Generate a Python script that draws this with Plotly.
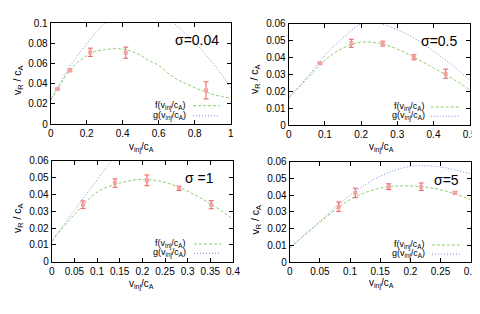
import plotly.graph_objects as go

# ---------------- data ----------------
# panel 1 : sigma = 0.04
p1_x = [0.037, 0.107, 0.220, 0.417, 0.863]
p1_y = [0.0347, 0.0532, 0.0710, 0.0706, 0.0333]
p1_e = [0.0008, 0.0015, 0.0041, 0.0055, 0.0085]
c1_x = [0.0, 0.05, 0.1, 0.15, 0.2, 0.25, 0.3, 0.35, 0.4, 0.45, 0.5, 0.55, 0.6, 0.65, 0.7, 0.75, 0.8, 0.85, 0.9, 0.95, 1.0]
f1_y = [0.024, 0.038, 0.052, 0.061, 0.0677, 0.072, 0.0735, 0.0745, 0.0742, 0.072, 0.068, 0.0625, 0.058, 0.0505, 0.0445, 0.040, 0.036, 0.0325, 0.0293, 0.0272, 0.0257]
g1_y = [0.024, 0.040, 0.0554, 0.068, 0.0795, 0.0905, 0.100, 0.106, 0.110, 0.112, 0.113, 0.112, 0.109, 0.1045, 0.0975, 0.089, 0.0805, 0.071, 0.0605, 0.049, 0.0356]

# panel 2 : sigma = 0.5
p2_x = [0.0865, 0.173, 0.2597, 0.346, 0.4337]
p2_y = [0.0366, 0.0484, 0.0482, 0.0401, 0.0304]
p2_e = [0.0005, 0.0024, 0.0014, 0.0015, 0.0027]
c2_x = [0.0, 0.05, 0.1, 0.15, 0.2, 0.25, 0.3, 0.35, 0.4, 0.45, 0.5]
f2_y = [0.016, 0.0272, 0.0385, 0.0456, 0.049, 0.0484, 0.045, 0.0397, 0.0338, 0.0278, 0.0209]
g2_y = [0.016, 0.0282, 0.0413, 0.0515, 0.0598, 0.0601, 0.0565, 0.0511, 0.0437, 0.0357, 0.0265]

# panel 3 : sigma = 1
p3_x = [0.069, 0.1397, 0.210, 0.281, 0.352]
p3_y = [0.0339, 0.0468, 0.0484, 0.0437, 0.0339]
p3_e = [0.0023, 0.0025, 0.0032, 0.0013, 0.0024]
c3_x = [0.0, 0.05, 0.1, 0.15, 0.2, 0.25, 0.3, 0.35, 0.4]
f3_y = [0.0123, 0.028, 0.0413, 0.0468, 0.049, 0.0472, 0.0419, 0.0345, 0.0254]
g3_x = [0.0, 0.05, 0.1, 0.15, 0.2]
g3_y = [0.0123, 0.0305, 0.0487, 0.066, 0.080]

# panel 4 : sigma = 5
p4_x = [0.0812, 0.1088, 0.164, 0.218, 0.274]
p4_y = [0.0331, 0.0413, 0.0450, 0.0450, 0.0414]
p4_e = [0.0028, 0.0028, 0.0017, 0.0022, 0.0008]
c4_x = [0.0, 0.05, 0.1, 0.15, 0.2, 0.25, 0.3]
f4_y = [0.0085, 0.0238, 0.0373, 0.0442, 0.0454, 0.0432, 0.0373]
g4_y = [0.0085, 0.0244, 0.0399, 0.0512, 0.0571, 0.0567, 0.0526]

sigma_labels = ["σ=0.04", "σ=0.5", "σ =1", "σ=5"]
x_ranges = [[0, 1], [0, 0.5], [0, 0.4], [0, 0.3]]
x_dticks = [0.2, 0.1, 0.05, 0.05]
y_ranges = [[0, 0.1], [0, 0.06], [0, 0.06], [0, 0.06]]
y_dticks = [0.02, 0.01, 0.01, 0.01]

# ---------------- style ----------------
W, H = 480, 314
FONT = "Liberation Sans, Arial, sans-serif"
F_COL = "#8ccf6a"
G_COL = "#6f8fd6"
E_COL = "#ee5a5a"
M_COL = "#f4a3a3"
F_DASH = "3px,2px"
G_DASH = "1px,2px"

panels = [
    dict(px=p1_x, py=p1_y, pe=p1_e, fx=c1_x, fy=f1_y, gx=c1_x, gy=g1_y),
    dict(px=p2_x, py=p2_y, pe=p2_e, fx=c2_x, fy=f2_y, gx=c2_x, gy=g2_y),
    dict(px=p3_x, py=p3_y, pe=p3_e, fx=c3_x, fy=f3_y, gx=g3_x, gy=g3_y),
    dict(px=p4_x, py=p4_y, pe=p4_e, fx=c4_x, fy=f4_y, gx=c4_x, gy=g4_y),
]

# plot areas in pixels (left, right, top, bottom)
boxes = [
    (42.7, 222.7, 15.0, 116.0),
    (280.7, 461.7, 15.7, 117.0),
    (43.7, 225.0, 152.9, 253.7),
    (281.7, 462.7, 153.5, 254.3),
]

def px2x(v):
    return v / W

def px2y(v):
    return 1 - v / H

fig = go.Figure()
layout = dict(
    template="none",
    width=W, height=H,
    margin=dict(l=0, r=0, t=0, b=0, pad=0),
    paper_bgcolor="white", plot_bgcolor="white",
    showlegend=False,
    font=dict(family=FONT, size=10, color="black"),
)

annotations = []
shapes = []

for i, p in enumerate(panels):
    n = i + 1
    xa = "x" if n == 1 else f"x{n}"
    ya = "y" if n == 1 else f"y{n}"
    fig.add_trace(go.Scatter(x=p["fx"], y=p["fy"], mode="lines", xaxis=xa, yaxis=ya,
                             line=dict(color=F_COL, width=1, dash=F_DASH, shape="spline")))
    fig.add_trace(go.Scatter(x=p["gx"], y=p["gy"], mode="lines", xaxis=xa, yaxis=ya,
                             line=dict(color=G_COL, width=1, dash=G_DASH, shape="spline")))
    fig.add_trace(go.Scatter(x=p["px"], y=p["py"], mode="markers", xaxis=xa, yaxis=ya,
                             marker=dict(symbol="square", size=4, color=M_COL),
                             error_y=dict(type="data", array=p["pe"], visible=True,
                                          color=E_COL, thickness=1, width=2.5)))
    l, r, t, b = boxes[i]
    axcommon = dict(showline=True, linecolor="black", linewidth=1, mirror="ticks",
                    ticks="inside", ticklen=4, tickcolor="black", showgrid=False,
                    zeroline=False, automargin=False,
                    tickfont=dict(family=FONT, size=10, color="black"))
    layout["xaxis" if n == 1 else f"xaxis{n}"] = dict(
        domain=[px2x(l), px2x(r)], range=x_ranges[i], dtick=x_dticks[i], tick0=0,
        anchor=ya, **axcommon)
    layout["yaxis" if n == 1 else f"yaxis{n}"] = dict(
        domain=[px2y(b), px2y(t)], range=y_ranges[i], dtick=y_dticks[i], tick0=0,
        anchor=xa, **axcommon)

sig_pos = [(213, 32), (451, 33), (208, 170), (452.7, 171.7)]
for i, (sx, sy) in enumerate(sig_pos):
    annotations.append(dict(text=sigma_labels[i], x=px2x(sx), y=px2y(sy), xref="paper", yref="paper",
                            xanchor="right", yanchor="middle", showarrow=False,
                            font=dict(family=FONT, size=14, color="black")))

leg_pos = [(180, 185, 212, 97.7, 107.7),
           (419, 422.7, 451, 99, 108.3),
           (180, 186, 213, 236, 245.3),
           (419, 424, 451.7, 237, 246)]
for (tx, lx0, lx1, yf, yg) in leg_pos:
    for name, yy, col, dash in (("f", yf, F_COL, F_DASH), ("g", yg, G_COL, G_DASH)):
        annotations.append(dict(text=f"{name}(v<sub>inj</sub>/c<sub>A</sub>)", x=px2x(tx), y=px2y(yy),
                                xref="paper", yref="paper", xanchor="right", yanchor="middle",
                                showarrow=False, font=dict(family=FONT, size=9, color="black")))
        shapes.append(dict(type="line", xref="paper", yref="paper",
                           x0=px2x(lx0), x1=px2x(lx1), y0=px2y(yy), y1=px2y(yy),
                           line=dict(color=col, width=1, dash=dash)))

ytit_pos = [(10, 72), (247, 71), (10, 210), (247.5, 212)]
for (x, y) in ytit_pos:
    annotations.append(dict(text="v<sub>R</sub> / c<sub>A</sub>", x=px2x(x), y=px2y(y),
                            xref="paper", yref="paper", xanchor="center", yanchor="middle",
                            textangle=-90, showarrow=False, font=dict(family=FONT, size=10.5, color="black")))
xtit_pos = [(133.3, 139), (373.3, 139), (133.3, 276), (373.3, 275)]
for (x, y) in xtit_pos:
    annotations.append(dict(text="v<sub>inj</sub>/c<sub>A</sub>", x=px2x(x), y=px2y(y),
                            xref="paper", yref="paper", xanchor="center", yanchor="middle",
                            showarrow=False, font=dict(family=FONT, size=10, color="black")))

layout["annotations"] = annotations
layout["shapes"] = shapes
fig.update_layout(**layout)
fig.write_html("out.html")
